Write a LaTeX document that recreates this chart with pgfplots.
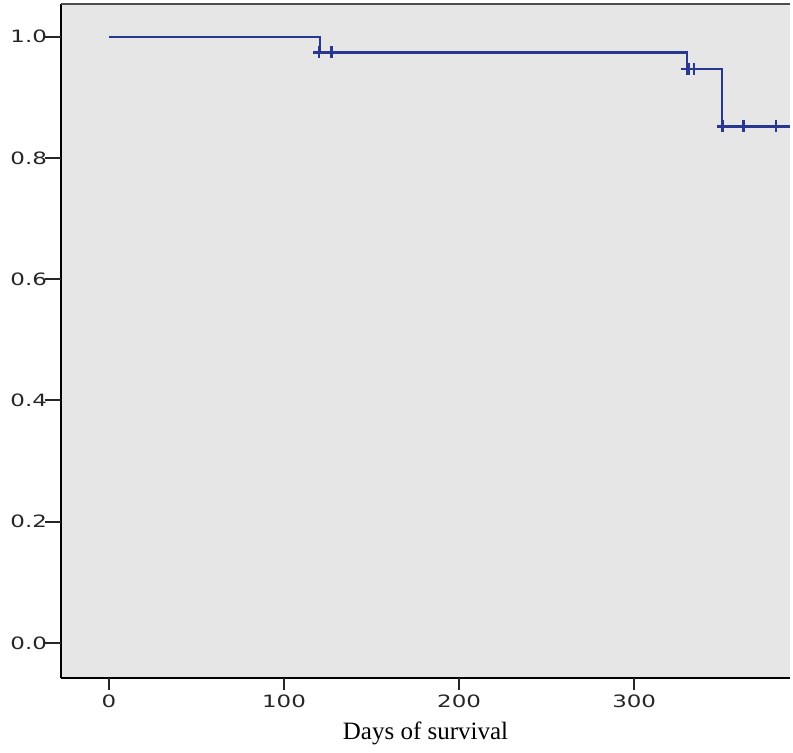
\documentclass[border=0pt]{standalone}
\usepackage{fontspec}
\setmainfont{Liberation Serif}
\newfontfamily\tickfont[FakeStretch=1.35]{DejaVu Sans}
\usepackage{pgfplots}
\pgfplotsset{compat=1.18}
\definecolor{bgc}{RGB}{230,230,230}
\definecolor{kmblue}{RGB}{40,56,146}
\begin{document}
\begin{tikzpicture}
\begin{axis}[
  scale only axis,
  width=364.5pt, height=337pt,
  xmin=-27.4, xmax=389, ymin=-0.058, ymax=1.054,
  axis background/.style={fill=bgc},
  axis x line*=bottom, axis y line*=left,
  axis line style={black, line width=1.1pt, -},
  xtick={0,100,200,300},
  ytick={0,0.2,0.4,0.6,0.8,1.0},
  major tick length=0pt,
  yticklabel style={xshift=-3.5pt, /pgf/number format/fixed, /pgf/number format/fixed zerofill, /pgf/number format/precision=1},
  xticklabel style={yshift=-5pt},
  ticklabel style={font=\tickfont\fontsize{8.5pt}{10pt}\selectfont, text=black!85},
  /pgf/number format/assume math mode=true,
  xlabel={Days of survival},
  xlabel style={font=\fontsize{12.5pt}{14pt}\selectfont, at={(rel axis cs:0.5,0)}, anchor=base, yshift=-31pt},
  clip=false,
]
\addplot[const plot, kmblue, line width=1.1pt] coordinates {
  (0,1) (120.5,0.974) (330,0.947) (350,0.852) (389,0.852)
};
\addplot[only marks, mark=+, mark size=3pt, kmblue, line width=1.2pt] coordinates {
  (120,0.974) (127,0.974) (330,0.947) (331,0.947) (334,0.947)
  (350.5,0.852) (362.5,0.852) (381,0.852)
};
\draw[black!70, line width=1.1pt] (rel axis cs:0,1) -- (rel axis cs:1,1);
\draw[black!85, line width=1.1pt] (axis cs:0,-0.058) -- (axis cs:0,-0.0778);
\draw[black!85, line width=1.1pt] (axis cs:100,-0.058) -- (axis cs:100,-0.0778);
\draw[black!85, line width=1.1pt] (axis cs:200,-0.058) -- (axis cs:200,-0.0778);
\draw[black!85, line width=1.1pt] (axis cs:300,-0.058) -- (axis cs:300,-0.0778);
\draw[black!85, line width=1.1pt] (axis cs:-27.4,0) -- (axis cs:-36.5,0);
\draw[black!85, line width=1.1pt] (axis cs:-27.4,0.2) -- (axis cs:-36.5,0.2);
\draw[black!85, line width=1.1pt] (axis cs:-27.4,0.4) -- (axis cs:-36.5,0.4);
\draw[black!85, line width=1.1pt] (axis cs:-27.4,0.6) -- (axis cs:-36.5,0.6);
\draw[black!85, line width=1.1pt] (axis cs:-27.4,0.8) -- (axis cs:-36.5,0.8);
\draw[black!85, line width=1.1pt] (axis cs:-27.4,1.0) -- (axis cs:-36.5,1.0);
\end{axis}
\pgfresetboundingbox
\path (-30.5pt,-37.5pt) rectangle (366pt,339pt);
\end{tikzpicture}
\end{document}
